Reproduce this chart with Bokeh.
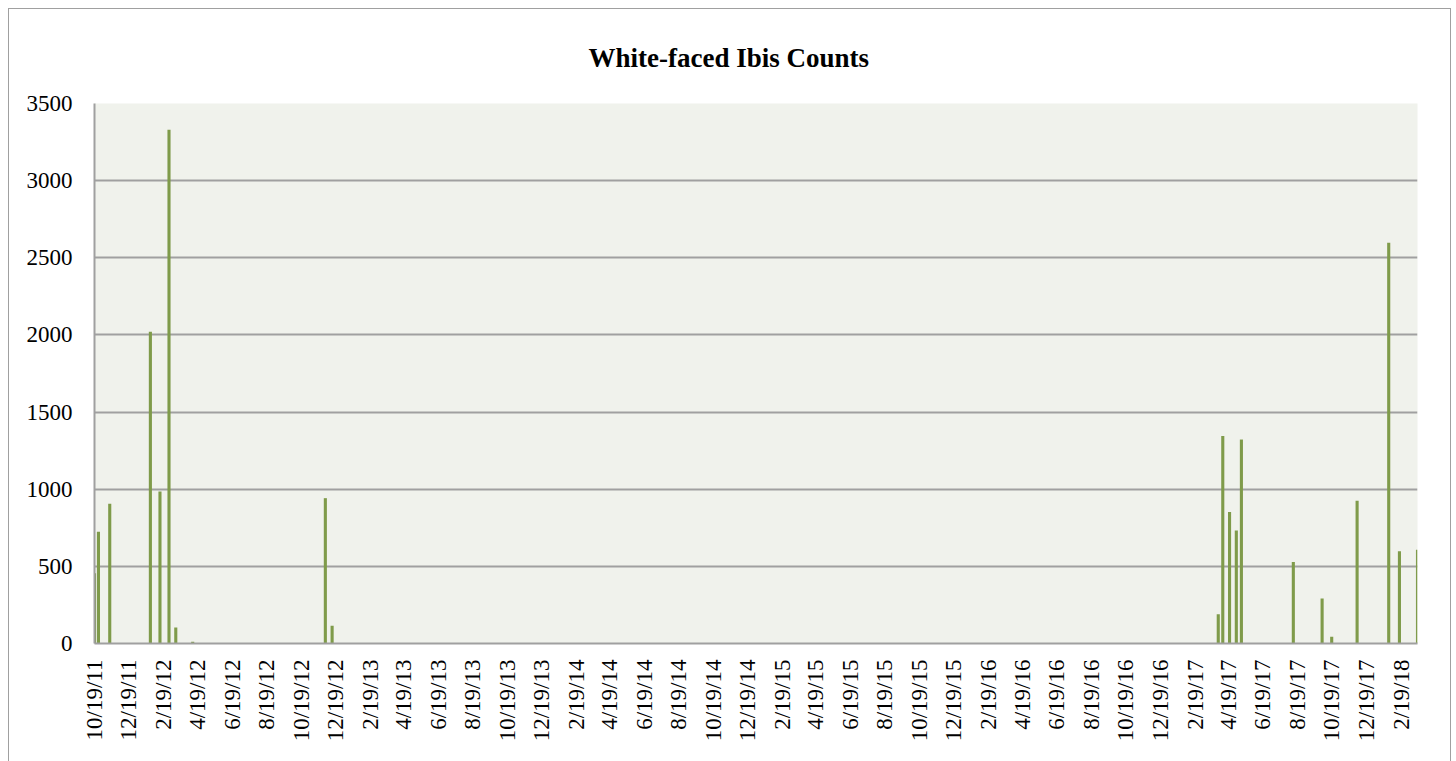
import math
from datetime import datetime
from bokeh.plotting import figure
from bokeh.models import Range1d, FixedTicker, ColumnDataSource
from bokeh.embed import file_html
from bokeh.resources import INLINE

# ---- data ----
survey_dates = ["10/19/11", "10/26/11", "11/15/11", "1/26/12", "2/12/12", "2/28/12",
                "3/11/12", "4/10/12", "12/1/12", "12/13/12",
                "4/1/17", "4/9/17", "4/21/17", "5/3/17", "5/12/17", "8/12/17",
                "10/2/17", "10/19/17", "12/3/17", "1/28/18", "2/16/18", "3/20/18"]
ibis_counts = [455, 725, 905, 2020, 985, 3330,
               103, 12, 942, 115,
               190, 1345, 852, 733, 1322, 528,
               292, 43, 925, 2598, 598, 608]

tick_labels = ["10/19/11", "12/19/11",
               "2/19/12", "4/19/12", "6/19/12", "8/19/12", "10/19/12", "12/19/12",
               "2/19/13", "4/19/13", "6/19/13", "8/19/13", "10/19/13", "12/19/13",
               "2/19/14", "4/19/14", "6/19/14", "8/19/14", "10/19/14", "12/19/14",
               "2/19/15", "4/19/15", "6/19/15", "8/19/15", "10/19/15", "12/19/15",
               "2/19/16", "4/19/16", "6/19/16", "8/19/16", "10/19/16", "12/19/16",
               "2/19/17", "4/19/17", "6/19/17", "8/19/17", "10/19/17", "12/19/17",
               "2/19/18"]
y_ticks = [0, 500, 1000, 1500, 2000, 2500, 3000, 3500]

title_text = "White-faced Ibis Counts"

# ---- convert dates to day numbers ----
def parse(s):
    return datetime.strptime(s, "%m/%d/%y")

origin = parse(survey_dates[0])
x_days = [(parse(s) - origin).days for s in survey_dates]
tick_days = [(parse(s) - origin).days for s in tick_labels]

source = ColumnDataSource(data=dict(x=x_days, count=ibis_counts))

FONT = "Liberation Serif"
GRID = "#A0A0A0"

p = figure(width=1443, height=753, output_backend="svg", toolbar_location=None,
           x_range=Range1d(x_days[0], x_days[-1]), y_range=Range1d(0, 3500),
           min_border_left=85, min_border_right=35, min_border_top=93, min_border_bottom=119)

p.styles = {"margin-left": "8px", "margin-top": "8px",
            "border-left": "1px solid #A0A0A0", "border-top": "1px solid #A0A0A0",
            "border-right": "1px solid #A0A0A0"}

p.background_fill_color = "#F0F2EC"
p.border_fill_color = "white"
p.outline_line_color = None

p.vbar(x="x", top="count", width=5.5, source=source,
       fill_color="#7F9B4A", line_color=None)

# title
p.title.text = title_text
p.title.text_font = FONT
p.title.text_font_style = "bold"
p.title.text_font_size = "27px"
p.title.text_color = "black"
p.title.align = "left"
p.title.offset = 494
p.title.standoff = 62

# x axis
p.xaxis.ticker = FixedTicker(ticks=tick_days)
p.xaxis.major_label_overrides = {d: lab for d, lab in zip(tick_days, tick_labels)}
p.xaxis.major_label_orientation = math.pi / 2
p.xaxis.major_label_text_font = FONT
p.xaxis.major_label_text_font_size = "23px"
p.xaxis.major_label_text_color = "black"
p.xaxis.major_label_standoff = 10
p.xaxis.major_tick_line_color = None
p.xaxis.minor_tick_line_color = None
p.xaxis.axis_line_color = GRID
p.xaxis.axis_line_width = 2

# y axis
p.yaxis.ticker = FixedTicker(ticks=y_ticks)
p.yaxis.major_label_text_font = FONT
p.yaxis.major_label_text_font_size = "23px"
p.yaxis.major_label_text_color = "black"
p.yaxis.major_label_standoff = 16
p.yaxis.major_tick_line_color = None
p.yaxis.minor_tick_line_color = None
p.yaxis.axis_line_color = GRID
p.yaxis.axis_line_width = 2

p.xgrid.visible = False
p.ygrid.ticker = FixedTicker(ticks=y_ticks)
p.ygrid.grid_line_color = GRID
p.ygrid.grid_line_width = 2

open("out.html", "w").write(file_html(p, INLINE))
